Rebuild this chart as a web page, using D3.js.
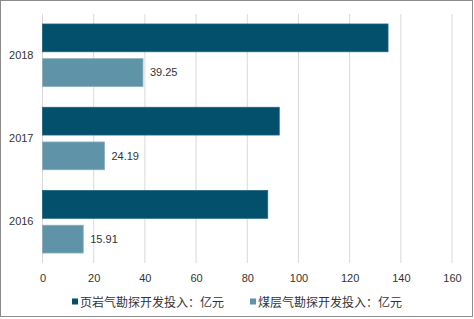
<!DOCTYPE html>
<html lang="zh">
<head>
  <meta charset="UTF-8">
  <title>勘探开发投入</title>
  <script src="https://d3js.org/d3.v7.min.js"></script>
  <style>
    body { margin: 0; background: #fff; }
    text { font-family: "Liberation Sans", "Noto Sans CJK SC", sans-serif; fill: #333; }
  </style>
</head>
<body>
  <div class="canvas"></div>
  <script>
    const years = ["2018", "2017", "2016"];
    const shaleGas = [135, 92.5, 88];
    const coalbedGas = [39.25, 24.19, 15.91];
    const seriesNames = ["页岩气勘探开发投入：亿元", "煤层气勘探开发投入：亿元"];
    const xTicks = [0, 20, 40, 60, 80, 100, 120, 140, 160];
    const colors = ["#02506b", "#5e93a8"];

    const width = 474;
    const height = 319;
    const [mt, mr, mb, ml] = [14, 22, 56, 42.5];
    const graphWidth = width - ml - mr;
    const graphHeight = height - mt - mb;

    const svg = d3.select('.canvas')
      .append('svg')
      .attr('width', width)
      .attr('height', height);

    // outer frame
    svg.append('rect')
      .attr('x', 0.5).attr('y', 0.5)
      .attr('width', width - 2).attr('height', height - 3)
      .attr('fill', 'none')
      .attr('stroke', '#8c8c8c');

    const graph = svg.append('g')
      .attr('transform', `translate(${ml}, ${mt})`);

    const x = d3.scaleLinear()
      .domain([0, 160])
      .range([0, graphWidth]);

    const y = d3.scaleBand()
      .domain(years)
      .range([0, graphHeight])
      .paddingInner(0.25)
      .paddingOuter(0.12);

    const inner = d3.scaleBand()
      .domain([0, 1])
      .range([0, y.bandwidth()])
      .paddingInner(0.2);

    // gridlines
    graph.append('g')
      .selectAll('line')
      .data(xTicks)
      .enter()
      .append('line')
      .attr('x1', d => x(d)).attr('x2', d => x(d))
      .attr('y1', 0).attr('y2', graphHeight)
      .attr('stroke', '#d9d9d9')
      .attr('stroke-width', 1);

    // x axis
    const xAxis = d3.axisBottom(x).tickValues(xTicks).tickSize(0).tickPadding(11);
    const xAxisG = graph.append('g')
      .attr('transform', `translate(0, ${graphHeight})`)
      .call(xAxis);
    xAxisG.select('.domain').remove();
    xAxisG.selectAll('text').attr('font-size', 11).attr('fill', '#333')
      .style('font-family', '"Liberation Sans", sans-serif');

    // y axis
    const yAxis = d3.axisLeft(y).tickSize(0).tickPadding(9);
    const yAxisG = graph.append('g').call(yAxis);
    yAxisG.select('.domain').remove();
    yAxisG.selectAll('text').attr('font-size', 11).attr('fill', '#333')
      .style('font-family', '"Liberation Sans", sans-serif');

    const rows = years.map((yr, i) => ({ year: yr, values: [shaleGas[i], coalbedGas[i]] }));

    const groups = graph.selectAll('.year')
      .data(rows)
      .enter()
      .append('g')
      .attr('class', 'year')
      .attr('transform', d => `translate(0, ${y(d.year)})`);

    groups.selectAll('rect')
      .data(d => d.values.map((v, k) => ({ v, k })))
      .enter()
      .append('rect')
      .attr('x', x(0))
      .attr('y', d => inner(d.k))
      .attr('width', d => x(d.v) - x(0))
      .attr('height', inner.bandwidth())
      .attr('fill', d => colors[d.k])
      .attr('stroke', d => d.k === 0 ? '#1f6580' : '#86adbd')
      .attr('stroke-width', 0.8);

    // value labels for the coalbed gas bars only
    groups.append('text')
      .text(d => d.values[1].toFixed(2))
      .attr('x', d => x(d.values[1]) + 7)
      .attr('y', inner(1) + inner.bandwidth() / 2)
      .attr('dy', '0.35em')
      .attr('font-size', 11)
      .attr('fill', '#333');

    // legend
    const legend = svg.append('g')
      .attr('transform', `translate(0, ${height - 16})`);
    const legendX = [72, 250];
    seriesNames.forEach((name, i) => {
      legend.append('rect')
        .attr('x', legendX[i]).attr('y', -4.5)
        .attr('width', 6).attr('height', 6)
        .attr('fill', colors[i]);
      legend.append('text')
        .attr('x', legendX[i] + 8)
        .attr('y', 0)
        .attr('dy', '0.35em')
        .attr('font-size', 12)
        .style('font-family', '"Noto Sans CJK SC", sans-serif')
        .attr('fill', '#333')
        .text(name);
    });
  </script>
</body>
</html>
